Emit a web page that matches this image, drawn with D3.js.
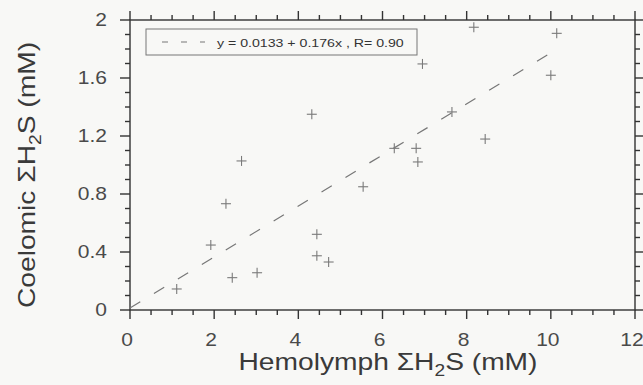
<!DOCTYPE html>
<html>
<head>
<meta charset="utf-8">
<script src="https://cdn.jsdelivr.net/npm/d3@7"></script>
<style>
  html, body { margin: 0; padding: 0; background: #f8f8f6; }
  svg { display: block; font-family: "Liberation Sans", Arial, Helvetica, sans-serif; }
</style>
</head>
<body>
<svg id="chart" width="643" height="385"></svg>
<script>
// hemolymph vs coelomic sulfide
var hemolymph = [1.11, 1.92, 2.28, 2.43, 2.65, 3.02, 4.32, 4.44, 4.44, 4.72,
                 5.54, 6.28, 6.80, 6.84, 7.65, 8.44, 8.17, 10.14, 6.95, 10.00];
var coelomic  = [0.145, 0.448, 0.733, 0.223, 1.028, 0.257, 1.350, 0.522, 0.374, 0.331,
                 0.850, 1.115, 1.115, 1.021, 1.366, 1.179, 1.950, 1.908, 1.697, 1.619];
var fit = { a: 0.0133, b: 0.176 };
var xTicks = [0, 2, 4, 6, 8, 10, 12];
var yTicks = [0, 0.4, 0.8, 1.2, 1.6, 2];
var legendText = "y = 0.0133 + 0.176x , R= 0.90";

(function () {
  var svg = d3.select("#chart");
  var pLeft = 130, pRight = 635, pTop = 20, pBottom = 310;
  var wide = 1.2; // the scanned lettering is wider than Liberation Sans

  var x = d3.scaleLinear().domain([0, 12]).range([pLeft, pRight]);
  var y = d3.scaleLinear().domain([0, 2]).range([pBottom, pTop]);

  var minorX = d3.range(0, 12.01, 0.5);
  var minorY = d3.range(0, 2.001, 0.1);

  // frame
  var frame = svg.append("g").attr("stroke", "#333").attr("stroke-width", 1.4).attr("fill", "none");
  frame.append("rect").attr("x", pLeft).attr("y", pTop).attr("width", pRight - pLeft).attr("height", pBottom - pTop);

  function isMajor(v, list) {
    return list.some(function (t) { return Math.abs(t - v) < 1e-6; });
  }

  // x ticks, bottom and top, pointing out
  minorX.forEach(function (v) {
    var len = isMajor(v, xTicks) ? 9 : 5;
    frame.append("line").attr("x1", x(v)).attr("x2", x(v)).attr("y1", pBottom).attr("y2", pBottom + len);
    frame.append("line").attr("x1", x(v)).attr("x2", x(v)).attr("y1", pTop).attr("y2", pTop - len);
  });
  // y ticks, left and right
  minorY.forEach(function (v) {
    var len = isMajor(v, yTicks) ? 10 : 5;
    frame.append("line").attr("y1", y(v)).attr("y2", y(v)).attr("x1", pLeft).attr("x2", pLeft - len);
    frame.append("line").attr("y1", y(v)).attr("y2", y(v)).attr("x1", pRight).attr("x2", pRight + len);
  });

  // tick labels
  svg.append("g").selectAll("text").data(xTicks).enter().append("text")
    .attr("transform", function (d) { return "translate(" + (x(d) - 3) + ",346) scale(" + wide + ",1)"; })
    .attr("text-anchor", "middle")
    .attr("font-size", 17.5)
    .attr("fill", "#4a4a4a")
    .text(function (d) { return d; });

  svg.append("g").selectAll("text").data(yTicks).enter().append("text")
    .attr("transform", function (d) { return "translate(107," + y(d) + ") scale(" + wide + ",1)"; })
    .attr("dy", "0.35em")
    .attr("text-anchor", "end")
    .attr("font-size", 17.5)
    .attr("fill", "#4a4a4a")
    .text(function (d) { return d; });

  // axis titles
  var xt = svg.append("text")
    .attr("transform", "translate(388,370) scale(" + wide + ",1)")
    .attr("text-anchor", "middle")
    .attr("font-size", 23.5)
    .attr("fill", "#3a3a3a");
  xt.append("tspan").text("Hemolymph \u03A3H");
  xt.append("tspan").attr("dy", 6).attr("font-size", 16).text("2");
  xt.append("tspan").attr("dy", -6).text("S (mM)");

  var yt = svg.append("text")
    .attr("transform", "translate(35,175) rotate(-90) scale(" + wide + ",1)")
    .attr("text-anchor", "middle")
    .attr("font-size", 23.5)
    .attr("fill", "#3a3a3a");
  yt.append("tspan").text("Coelomic \u03A3H");
  yt.append("tspan").attr("dy", 6).attr("font-size", 16).text("2");
  yt.append("tspan").attr("dy", -6).text("S (mM)");

  // regression line
  var xMax = d3.max(hemolymph);
  svg.append("line")
    .attr("x1", x(0)).attr("y1", y(fit.a))
    .attr("x2", x(xMax)).attr("y2", y(fit.a + fit.b * xMax))
    .attr("stroke", "#777")
    .attr("stroke-width", 1.2)
    .attr("stroke-dasharray", "12,16");

  // points as plus marks
  var pts = svg.append("g").attr("stroke", "#7a7a7a").attr("stroke-width", 1.1);
  hemolymph.forEach(function (h, i) {
    var cx = x(h), cy = y(coelomic[i]);
    pts.append("line").attr("x1", cx - 5).attr("x2", cx + 5).attr("y1", cy).attr("y2", cy);
    pts.append("line").attr("x1", cx).attr("x2", cx).attr("y1", cy - 5).attr("y2", cy + 5);
  });

  // legend
  svg.append("rect")
    .attr("x", 146).attr("y", 29).attr("width", 271).attr("height", 26)
    .attr("fill", "none").attr("stroke", "#777").attr("stroke-width", 1);
  svg.append("line")
    .attr("x1", 162).attr("x2", 205).attr("y1", 42).attr("y2", 42)
    .attr("stroke", "#777").attr("stroke-width", 1.2).attr("stroke-dasharray", "6,13");
  svg.append("text")
    .attr("transform", "translate(217,47) scale(" + wide + ",1)")
    .attr("font-size", 11.8)
    .attr("fill", "#333")
    .text(legendText);
})();
</script>
</body>
</html>
